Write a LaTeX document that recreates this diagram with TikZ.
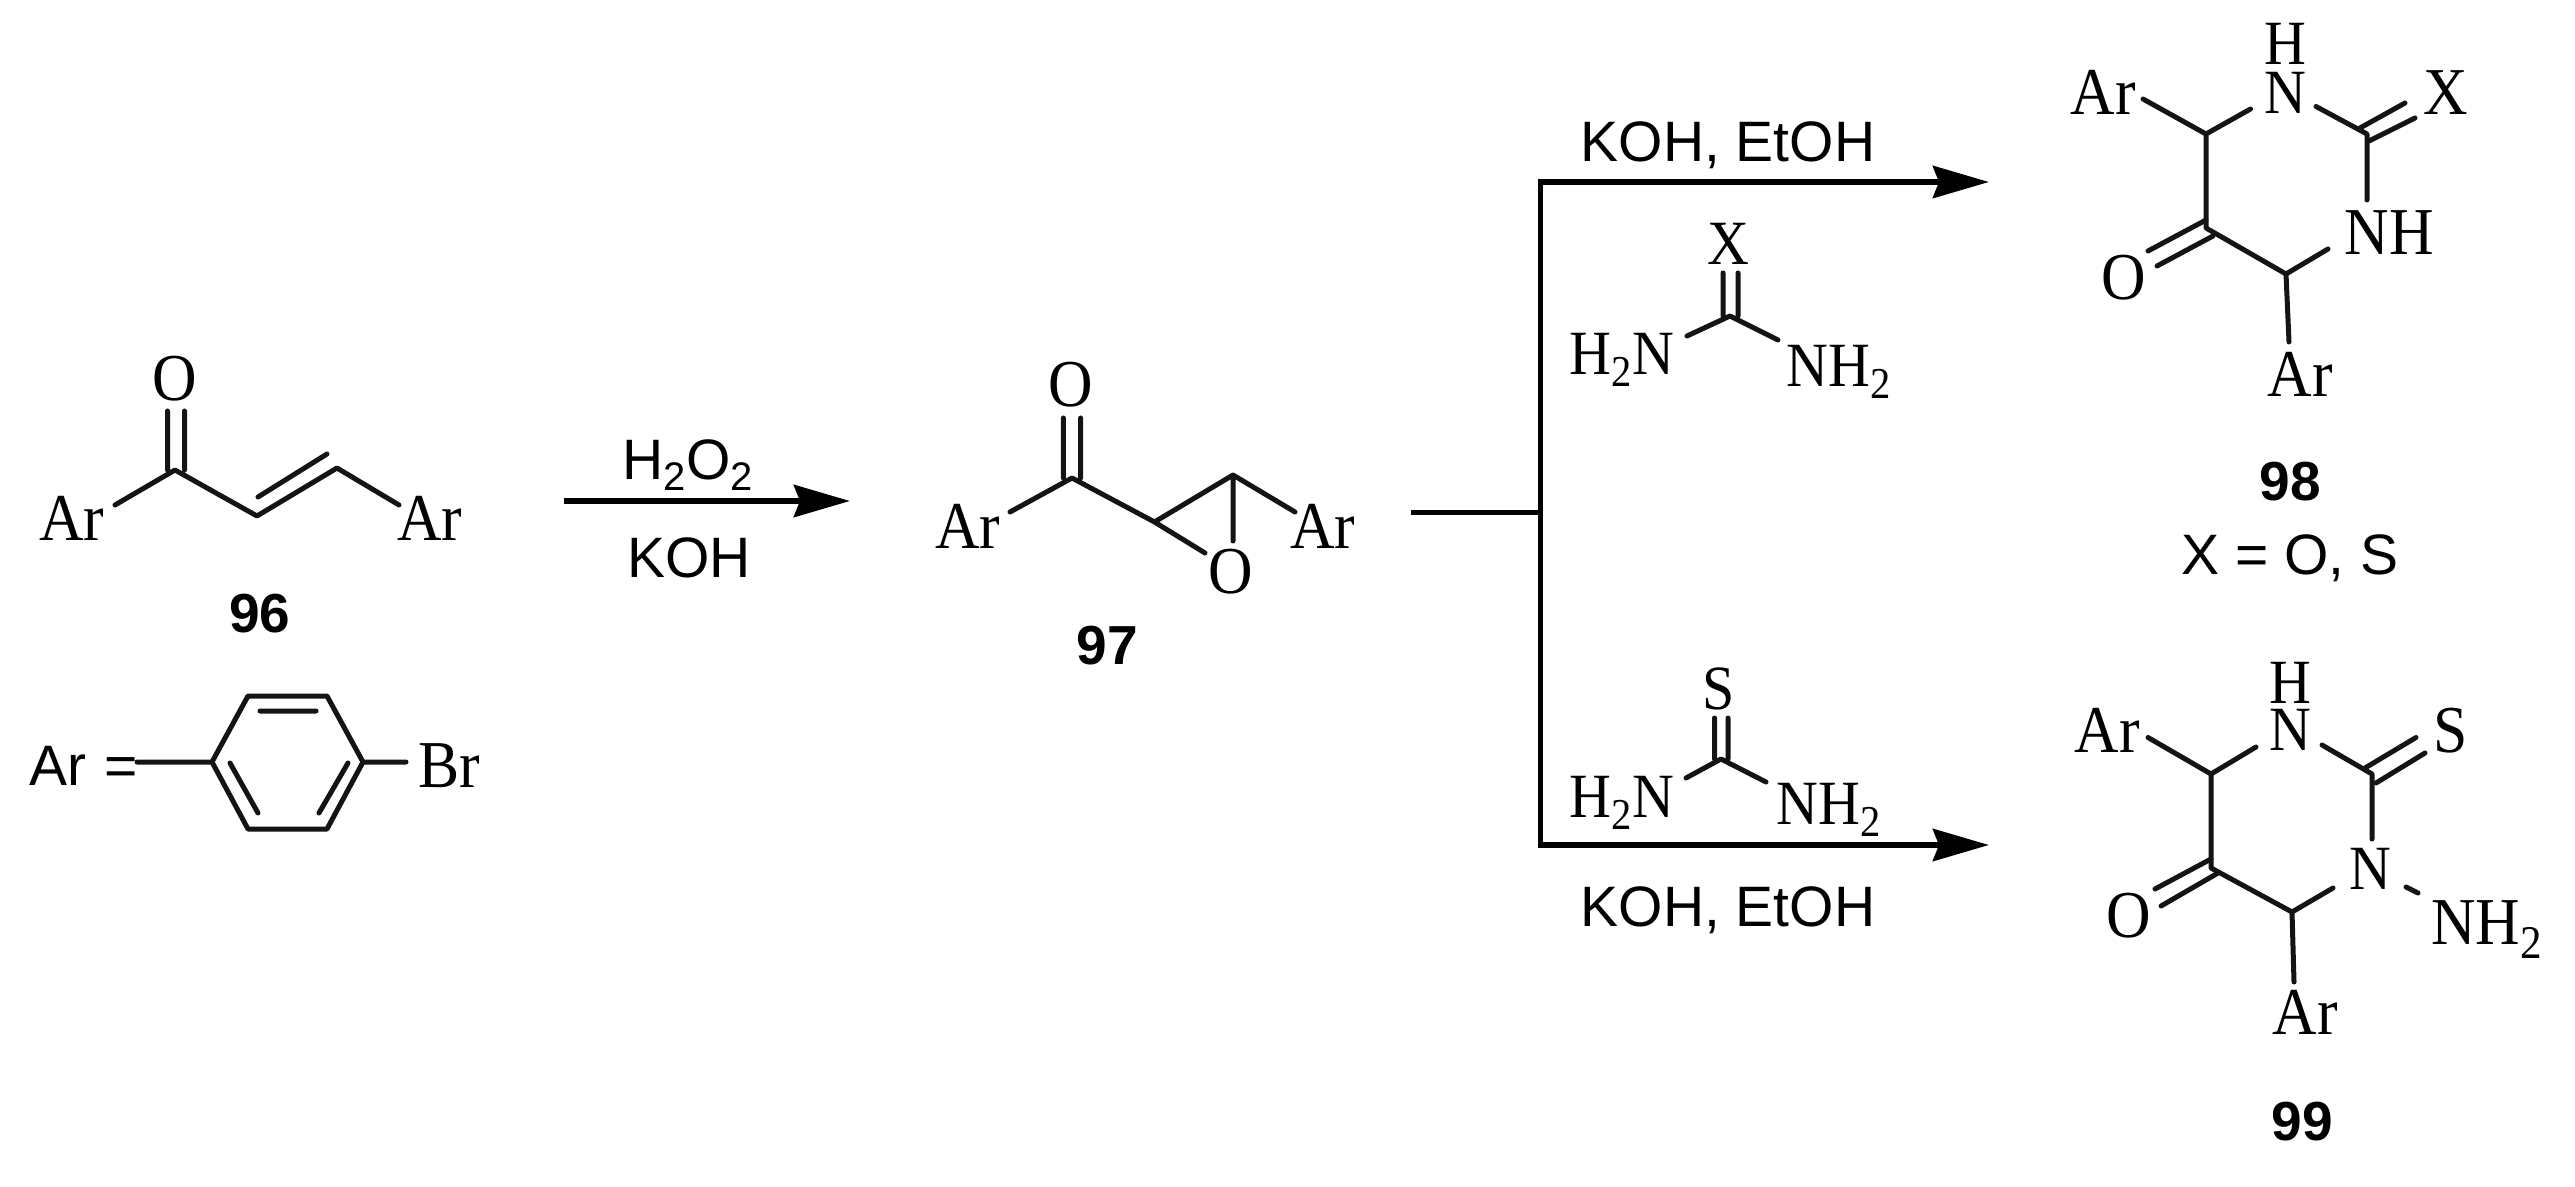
\documentclass[tikz,border=0pt]{standalone}
\usepackage{fontspec}
\setmainfont[FakeStretch=0.92]{Liberation Serif}
\setsansfont{Liberation Sans}
\usetikzlibrary{arrows.meta}
\tikzset{
  atomlabel/.style={inner sep=0pt,text height=22.2pt,text depth=0pt,font=\fontsize{33.5}{33.5}\selectfont\rmfamily},
  reagentatom/.style={inner sep=0pt,text height=20.8pt,text depth=0pt,font=\fontsize{31.5}{31.5}\selectfont\rmfamily},
  condition/.style={inner sep=0pt,text height=20.4pt,text depth=0pt,font=\fontsize{28.5}{28.5}\selectfont\sffamily},
  cpdlabel/.style={inner sep=0pt,text height=19.6pt,text depth=0pt,font=\fontsize{27.5}{27.5}\selectfont\sffamily\bfseries},
  bond/.style={line width=2.5pt,line cap=round,line join=round,black!92},
  rxnarrow/.style={line width=3.1pt,-{Stealth[length=28pt,width=16pt,inset=3pt]},black},
  rxnline/.style={line width=2.5pt,black}
}
\begin{document}
\begin{tikzpicture}[x=0.5pt,y=-0.5pt]
\useasboundingbox (0,0) rectangle (2575,1187);
% ---------- 96
\node[atomlabel] (a96O) at (175,378) {O};
\node[atomlabel] (a96ArL) at (72,518) {Ar};
\node[atomlabel] (a96ArR) at (430,518) {Ar};
\node[cpdlabel] (l96) at (260,613) {96};
\coordinate (c1) at (175,470);
\coordinate (c2) at (257,516);
\coordinate (c3) at (337,468);
\coordinate (d1) at (167.5,411); \coordinate (d2) at (167.5,470);
\coordinate (d3) at (184.5,411); \coordinate (d4) at (184.5,470);
\coordinate (e1) at (258,497); \coordinate (e2) at (327,454);
\coordinate (f1) at (115,505); \coordinate (f2) at (399,505);
\draw[bond] (d1) -- (d2) (d3) -- (d4) (f1) -- (c1) -- (c2) -- (c3) -- (f2) (e1) -- (e2);
% ---------- Ar definition
\node[condition] (defAr) at (58,765) {Ar};
\node[condition] (defEq) at (121,765) {=};
\node[atomlabel] (defBr) at (449,765) {Br};
\coordinate (r1) at (212,762); \coordinate (r2) at (248,696); \coordinate (r3) at (327,696);
\coordinate (r4) at (363,762); \coordinate (r5) at (327,829); \coordinate (r6) at (248,829);
\coordinate (i1) at (260,711); \coordinate (i2) at (316,711);
\coordinate (i3) at (230,763); \coordinate (i4) at (258,813);
\coordinate (i5) at (348,763); \coordinate (i6) at (319,813);
\coordinate (g1) at (137,762); \coordinate (g2) at (406,762);
\draw[bond] (r1) -- (r2) -- (r3) -- (r4) -- (r5) -- (r6) -- cycle;
\draw[bond] (i1) -- (i2) (i3) -- (i4) (i5) -- (i6) (g1) -- (r1) (r4) -- (g2);
% ---------- first arrow
\coordinate (ar1s) at (564,501); \coordinate (ar1e) at (850,501);
\draw[rxnarrow] (ar1s) -- (ar1e);
\node[condition] (h2o2) at (688,459) {H\textsubscript{2}O\textsubscript{2}};
\node[condition] (koh1) at (689,557) {KOH};
% ---------- 97
\node[atomlabel] (a97O) at (1071,384) {O};
\node[atomlabel] (a97ArL) at (968,526) {Ar};
\node[atomlabel] (a97ArR) at (1323,526) {Ar};
\node[atomlabel] (a97Oe) at (1231,571) {O};
\node[cpdlabel] (l97) at (1107,645) {97};
\coordinate (k1) at (1072,478); \coordinate (k2) at (1154.5,522); \coordinate (k3) at (1233,475);
\coordinate (kd1) at (1063.4,418); \coordinate (kd2) at (1063.4,478);
\coordinate (kd3) at (1080.6,418); \coordinate (kd4) at (1080.6,478);
\coordinate (kf1) at (1010,512); \coordinate (kf2) at (1295,512);
\coordinate (kg1) at (1205,553); \coordinate (kg2) at (1233,541);
\draw[bond] (kd1) -- (kd2) (kd3) -- (kd4) (kf1) -- (k1) -- (k2) -- (k3) -- (kf2) (k2) -- (kg1) (k3) -- (kg2);
% ---------- branching
\coordinate (b0) at (1411,512); \coordinate (b1) at (1540,512);
\coordinate (bt) at (1540,182); \coordinate (bb) at (1540,845);
\coordinate (bte) at (1989,182); \coordinate (bbe) at (1989,845);
\draw[rxnline] (b0) -- (b1);
\draw[rxnarrow] (bb) -- (bbe);
\draw[rxnarrow] (bt) -- (bte);
\draw[rxnline,line cap=rect] (bt) -- (bb);
\node[condition] (kohT) at (1728,141) {KOH, EtOH};
\node[condition] (kohB) at (1728,906) {KOH, EtOH};
% ---------- urea reagent
\node[reagentatom] (uX) at (1728,244) {X};
\node[reagentatom] (uL) at (1622,354) {H\textsubscript{2}N};
\node[reagentatom] (uR) at (1839,366) {NH\textsubscript{2}};
\coordinate (uC) at (1730,316);
\coordinate (ud1) at (1723,273); \coordinate (ud2) at (1723,316);
\coordinate (ud3) at (1738,273); \coordinate (ud4) at (1738,316);
\coordinate (ub1) at (1687,336); \coordinate (ub2) at (1778,340);
\draw[bond] (ud1) -- (ud2) (ud3) -- (ud4) (ub1) -- (uC) -- (ub2);
% ---------- thiourea reagent
\node[reagentatom] (tS) at (1719,689) {S};
\node[reagentatom] (tL) at (1622,797) {H\textsubscript{2}N};
\node[reagentatom] (tR) at (1829,804) {NH\textsubscript{2}};
\coordinate (tC) at (1721,759);
\coordinate (td1) at (1714.5,718); \coordinate (td2) at (1714.5,759);
\coordinate (td3) at (1728,718); \coordinate (td4) at (1728,759);
\coordinate (tb1) at (1686,778); \coordinate (tb2) at (1766,782);
\draw[bond] (td1) -- (td2) (td3) -- (td4) (tb1) -- (tC) -- (tb2);
% ---------- 98
\node[reagentatom] (p8H) at (2285,44) {H};
\node[reagentatom] (p8N) at (2285,93) {N};
\node[atomlabel] (p8ArT) at (2103,92) {Ar};
\node[atomlabel] (p8X) at (2446,92) {X};
\node[atomlabel] (p8NH) at (2389,232) {NH};
\node[atomlabel] (p8O) at (2124,277) {O};
\node[atomlabel] (p8ArB) at (2300,374) {Ar};
\node[cpdlabel] (l98) at (2290,481) {98};
\node[condition] (xdef) at (2290,554) {X = O, S};
\coordinate (m1) at (2206,134); \coordinate (m2) at (2367,134); \coordinate (m3) at (2206,228); \coordinate (m4) at (2286,274);
\coordinate (mb1) at (2143,99); \coordinate (mb2) at (2250.5,109); \coordinate (mb3) at (2316,106.5);
\coordinate (mb4) at (2367,200); \coordinate (mb5) at (2328,249); \coordinate (mb6) at (2289,342);
\coordinate (md1) at (2360,128); \coordinate (md2) at (2405,103); \coordinate (md3) at (2369,141); \coordinate (md4) at (2415,118);
\coordinate (md5) at (2206,220); \coordinate (md6) at (2148,251); \coordinate (md7) at (2213,236); \coordinate (md8) at (2157,266);
\draw[bond] (mb1) -- (m1) -- (mb2) (mb3) -- (m2) -- (mb4) (mb5) -- (m4) -- (mb6) (m4) -- (m3) -- (m1);
\draw[bond] (md1) -- (md2) (md3) -- (md4) (md5) -- (md6) (md7) -- (md8);
% ---------- 99
\node[reagentatom] (p9H) at (2290,683) {H};
\node[reagentatom] (p9N) at (2290,730) {N};
\node[atomlabel] (p9ArT) at (2107,730) {Ar};
\node[atomlabel] (p9S) at (2451,730) {S};
\node[reagentatom] (p9N2) at (2370,869) {N};
\node[atomlabel] (p9O) at (2129,915) {O};
\node[atomlabel] (p9NH2) at (2487,922) {NH\textsubscript{2}};
\node[atomlabel] (p9ArB) at (2305,1012) {Ar};
\node[cpdlabel] (l99) at (2302,1121) {99};
\coordinate (q1) at (2211,774); \coordinate (q2) at (2372,774); \coordinate (q3) at (2211,868); \coordinate (q4) at (2292,912);
\coordinate (qb1) at (2148,737.5); \coordinate (qb2) at (2256,747); \coordinate (qb3) at (2322,745);
\coordinate (qb4) at (2372,839); \coordinate (qb5) at (2333,888); \coordinate (qb6) at (2294,982);
\coordinate (qb7) at (2406,887); \coordinate (qb8) at (2418,893);
\coordinate (qd1) at (2365,768); \coordinate (qd2) at (2416,737.5); \coordinate (qd3) at (2376,783); \coordinate (qd4) at (2425,753);
\coordinate (qd5) at (2211,859); \coordinate (qd6) at (2155,889); \coordinate (qd7) at (2218,873); \coordinate (qd8) at (2161,906);
\draw[bond] (qb1) -- (q1) -- (qb2) (qb3) -- (q2) -- (qb4) (qb5) -- (q4) -- (qb6) (q4) -- (q3) -- (q1) (qb7) -- (qb8);
\draw[bond] (qd1) -- (qd2) (qd3) -- (qd4) (qd5) -- (qd6) (qd7) -- (qd8);
\end{tikzpicture}
\end{document}
